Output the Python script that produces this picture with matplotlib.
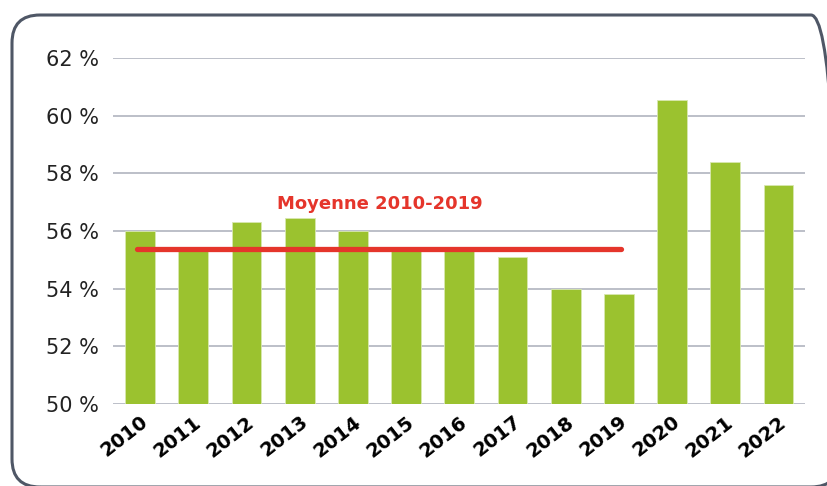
import matplotlib.pyplot as plt
from matplotlib.patches import FancyBboxPatch

years = ['2010', '2011', '2012', '2013', '2014', '2015', '2016',
         '2017', '2018', '2019', '2020', '2021', '2022']
values = [56.0, 55.3, 56.3, 56.45, 56.0, 55.3, 55.3,
          55.1, 54.0, 53.8, 60.55, 58.4, 57.6]
moyenne = 55.37
moyenne_label = 'Moyenne 2010-2019'
yticks = [50, 52, 54, 56, 58, 60, 62]

green = '#9bc22f'
red = '#e5352b'
grid_col = '#a9aeb9'

fig = plt.figure(figsize=(8.27, 4.86), dpi=100)

# rounded frame around the chart (pixel coords, origin bottom-left)
frame = FancyBboxPatch((12, -1), 827, 472,
                       boxstyle='round,pad=0,rounding_size=28',
                       transform=None, fill=False,
                       edgecolor='#4f5766', linewidth=2.2)
fig.patches.append(frame)

ax = fig.add_axes([0.1366, 0.1687, 0.8368, 0.712])
x = range(len(years))
ax.bar(x, values, width=0.56, color=green, edgecolor='#d8e8b0', linewidth=0.6,
       zorder=2)
ax.set_ylim(50, 62)
ax.set_xlim(-0.51, 12.5)

for t in yticks:
    ax.axhline(t, color=grid_col, linewidth=1.1, zorder=1)

ax.plot([-0.06, 9.05], [moyenne, moyenne], color=red, linewidth=3.8,
        solid_capstyle='round', zorder=3)
ax.text(4.5, 56.78, moyenne_label, color=red, fontsize=13, fontweight='bold',
        ha='center', va='baseline')

ax.set_yticks(yticks)
ax.set_yticklabels([f'{t} %' for t in yticks], fontsize=15, color='#222222')
ax.set_xticks(list(x))
ax.set_xticklabels(years, rotation=38, fontsize=14, fontweight='bold',
                   ha='right', rotation_mode='anchor')
ax.tick_params(axis='both', length=0, pad=10)
ax.tick_params(axis='x', pad=6)
for s in ax.spines.values():
    s.set_visible(False)

fig.savefig('out.png', dpi=100)
